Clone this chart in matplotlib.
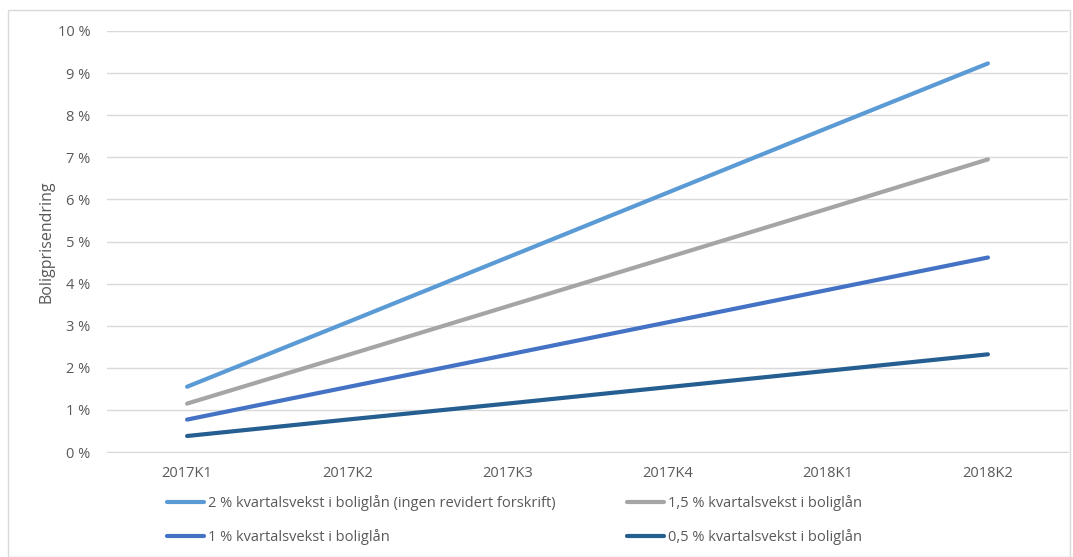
import matplotlib
matplotlib.use("Agg")
import matplotlib.pyplot as plt
from matplotlib.patches import Rectangle

categories = ["2017K1", "2017K2", "2017K3", "2017K4", "2018K1", "2018K2"]
s_2 = [1.55, 3.08, 4.62, 6.16, 7.70, 9.23]
s_15 = [1.15, 2.30, 3.46, 4.62, 5.78, 6.95]
s_1 = [0.77, 1.54, 2.31, 3.08, 3.85, 4.62]
s_05 = [0.38, 0.77, 1.15, 1.54, 1.93, 2.32]
labels = ["2 % kvartalsvekst i boliglån (ingen revidert forskrift)",
          "1,5 % kvartalsvekst i boliglån",
          "1 % kvartalsvekst i boliglån",
          "0,5 % kvartalsvekst i boliglån"]
yticks = list(range(0, 11))
ytick_labels = [f"{v} %" for v in yticks]

colors = ["#5B9BD5", "#A5A5A5", "#4472C4", "#255E91"]
txt = "#595959"
font = "Open Sans"
fs = 10.5

fig = plt.figure(figsize=(10.73, 5.57), dpi=100)
ax = fig.add_axes([107/1073, 1-452/557, (1068-107)/1073, (452-31)/557])

x = list(range(len(categories)))
handles = []
for s, c, lab in zip([s_2, s_15, s_1, s_05], colors, labels):
    h, = ax.plot(x, s, color=c, lw=3, solid_capstyle="round", label=lab, zorder=3)
    handles.append(h)

ax.set_xlim(-0.5, 5.5)
ax.set_ylim(0, 10)
ax.set_yticks(yticks)
ax.set_yticklabels(ytick_labels, fontsize=fs, color=txt, family=font)
ax.set_xticks(x)
ax.set_xticklabels(categories, fontsize=fs, color=txt, family=font)
ax.tick_params(axis="x", length=0, pad=10)
ax.tick_params(axis="y", length=0, pad=12)
ax.grid(axis="y", color="#D9D9D9", lw=1)
for sp in ["top", "right", "left"]:
    ax.spines[sp].set_visible(False)
ax.spines["bottom"].set_color("#D9D9D9")
ax.set_ylabel("Boligprisendring", fontsize=11.5, color=txt, family=font, labelpad=2)

order = [0, 2, 1, 3]
leg = fig.legend([handles[i] for i in order], [labels[i] for i in order],
                 ncol=2, loc="upper left", bbox_to_anchor=(154/1073, 1-482/557),
                 frameon=False, handlelength=2.5, handletextpad=0.3,
                 columnspacing=4.9, labelspacing=1.25,
                 prop={"family": font, "size": fs})
for t in leg.get_texts():
    t.set_color(txt)

fig.patches.append(Rectangle((8/1073, 0), (1070-8)/1073, 1-10/557, transform=fig.transFigure,
                             fill=False, edgecolor="#D9D9D9", lw=1))
fig.savefig("out.png", dpi=100)
